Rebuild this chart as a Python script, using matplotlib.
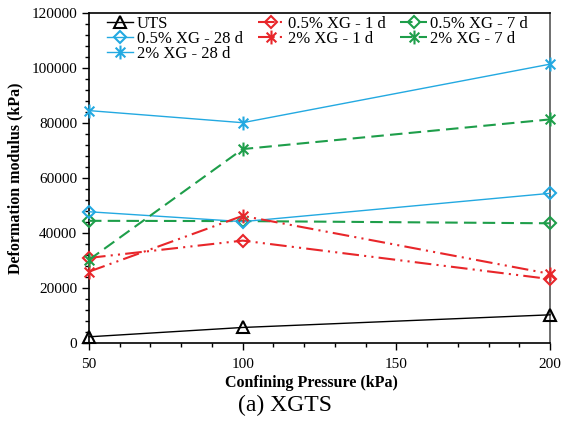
import numpy as np
import matplotlib.pyplot as plt
from matplotlib.path import Path
from matplotlib.ticker import MultipleLocator

plt.rcParams['font.family'] = ['Liberation Serif', 'DejaVu Serif']

pressure = [50, 100, 200]

labels = ['UTS', '0.5% XG - 1 d', '0.5% XG - 7 d',
          '0.5% XG - 28 d', '2% XG - 1 d', '2% XG - 7 d',
          '2% XG - 28 d']
uts = [2200, 5600, 10200]
xg05_1d = [30900, 37200, 23200]
xg05_7d = [44400, 44300, 43500]
xg05_28d = [47700, 44100, 54400]
xg2_1d = [25900, 46200, 25100]
xg2_7d = [30200, 70500, 81300]
xg2_28d = [84500, 80100, 101400]

red = '#e8262a'
green = '#1e9e4a'
cyan = '#23a9e1'

# excel style star: an x with a vertical bar through it
star = Path([(-0.7, -0.7), (0.7, 0.7), (-0.7, 0.7), (0.7, -0.7), (0, -1), (0, 1)],
            [Path.MOVETO, Path.LINETO, Path.MOVETO, Path.LINETO, Path.MOVETO, Path.LINETO])
dashdotdot = (0, (8, 2.5, 1, 2.5, 1, 2.5))
dashed = (0, (6, 3))

fig = plt.figure(figsize=(5.63, 4.34), dpi=100)
ax = fig.add_axes([0.158, 0.21, 0.819, 0.76])

series = [
    (uts, 'black', '^', '-', 1.0, 9),
    (xg05_1d, red, 'D', dashdotdot, 1.5, 6.5),
    (xg05_7d, green, 'D', dashed, 1.5, 6.5),
    (xg05_28d, cyan, 'D', '-', 1.0, 6.5),
    (xg2_1d, red, star, dashdotdot, 1.5, 10),
    (xg2_7d, green, star, dashed, 1.5, 10),
    (xg2_28d, cyan, star, '-', 1.0, 10),
]

handles = []
for (vals, col, mk, ls, lw, ms), lab in zip(series, labels):
    h, = ax.plot(pressure, vals, color=col, linestyle=ls, linewidth=lw,
                 marker=mk, markersize=ms, markerfacecolor='none',
                 markeredgecolor=col, markeredgewidth=1.5, label=lab,
                 clip_on=False, zorder=3)
    handles.append(h)

ax.set_xlim(50, 200)
ax.set_ylim(0, 120000)
ax.xaxis.set_major_locator(MultipleLocator(50))
ax.xaxis.set_minor_locator(MultipleLocator(10))
ax.yaxis.set_major_locator(MultipleLocator(20000))
ax.yaxis.set_minor_locator(MultipleLocator(4000))
ax.tick_params(which='major', direction='out', length=5, width=1, labelsize=11)
ax.tick_params(which='minor', direction='out', length=3, width=1)
ax.tick_params(axis='x', pad=6)
for s in ax.spines.values():
    s.set_linewidth(1.2)
ax.spines['right'].set_color('#555555')

# legend is filled row by row in the original
order = [0, 3, 6, 1, 4, 2, 5]
ax.legend([handles[i] for i in order], [labels[i] for i in order],
          loc='upper left', ncol=3, frameon=False, fontsize=12,
          handlelength=1.6, handletextpad=0.2, columnspacing=0.9,
          labelspacing=-0.05, borderaxespad=0.0, bbox_to_anchor=(0.024, 1.012))

fig.text(0.553, 0.117, 'Confining Pressure (kPa)', ha='center', va='center',
         fontsize=11.5, fontweight='bold')
fig.text(0.027, 0.59, 'Deformation modulus (kPa)', ha='center', va='center',
         rotation=90, fontsize=11.5, fontweight='bold')
fig.text(0.506, 0.065, '(a) XGTS', ha='center', va='center', fontsize=17)

fig.savefig('out.png', dpi=100)
